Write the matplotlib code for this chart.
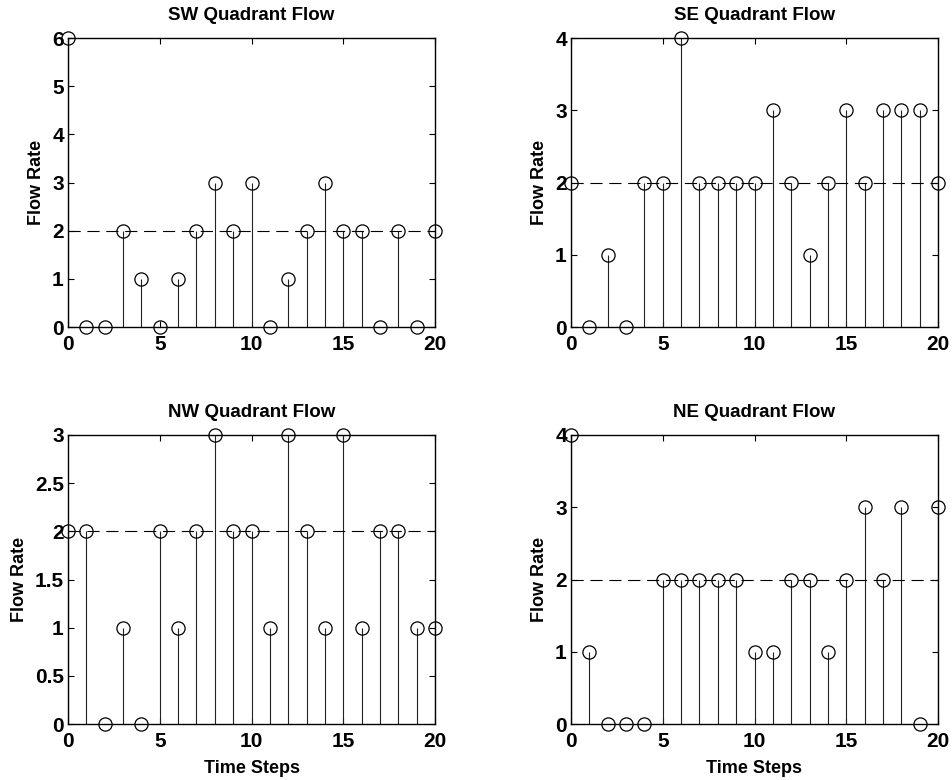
import numpy as np
import matplotlib.pyplot as plt

# ==================================================
# data
# ==================================================

time_steps = np.arange(0, 21)

sw_flow = [6, 0, 0, 2, 1, 0, 1, 2, 3, 2, 3, 0, 1, 2, 3, 2, 2, 0, 2, 0, 2]
se_flow = [2, 0, 1, 0, 2, 2, 4, 2, 2, 2, 2, 3, 2, 1, 2, 3, 2, 3, 3, 3, 2]
nw_flow = [2, 2, 0, 1, 0, 2, 1, 2, 3, 2, 2, 1, 3, 2, 1, 3, 1, 2, 2, 1, 1]
ne_flow = [4, 1, 0, 0, 0, 2, 2, 2, 2, 2, 1, 1, 2, 2, 1, 2, 3, 2, 3, 0, 3]

titles = ['SW Quadrant Flow', 'SE Quadrant Flow',
          'NW Quadrant Flow', 'NE Quadrant Flow']

mean_level = 2

y_ticks = [
    [0, 1, 2, 3, 4, 5, 6],
    [0, 1, 2, 3, 4],
    [0, 0.5, 1, 1.5, 2, 2.5, 3],
    [0, 1, 2, 3, 4],
]
y_ticklabels = [
    ['0', '1', '2', '3', '4', '5', '6'],
    ['0', '1', '2', '3', '4'],
    ['0', '0.5', '1', '1.5', '2', '2.5', '3'],
    ['0', '1', '2', '3', '4'],
]

# ==================================================
# figure
# ==================================================

plt.rcParams['font.family'] = ['Liberation Sans', 'DejaVu Sans']
plt.rcParams['font.weight'] = 'bold'

W, H = 952, 780
fig = plt.figure(figsize=(W / 100, H / 100), dpi=100)

# axes boxes in pixels: left, top, right, bottom
boxes = [
    (68, 38, 435, 327),
    (571, 38, 938, 327),
    (68, 435, 435, 724),
    (571, 435, 938, 724),
]

all_flow = [sw_flow, se_flow, nw_flow, ne_flow]

for i in range(4):

    l, t, r, b = boxes[i]
    ax = fig.add_axes([l / W, 1 - b / H, (r - l) / W, (b - t) / H])

    flow = all_flow[i]

    # stems
    ax.vlines(time_steps, 0, flow, colors='#222222', linewidth=0.8, zorder=2)

    # markers
    ax.plot(time_steps, flow, 'o', markersize=9.5, markerfacecolor='none',
            markeredgecolor='black', markeredgewidth=0.9,
            clip_on=False, zorder=4)

    # mean line
    ax.plot([0, 20], [mean_level, mean_level], color='black',
            linewidth=0.8, dashes=(11, 6), zorder=3)

    ax.set_xlim(0, 20)
    ax.set_ylim(y_ticks[i][0], y_ticks[i][-1])

    ax.set_xticks([0, 5, 10, 15, 20])
    ax.set_xticklabels(['0', '5', '10', '15', '20'])
    ax.set_yticks(y_ticks[i])
    ax.set_yticklabels(y_ticklabels[i])

    ax.tick_params(direction='in', length=4, width=0.8,
                   top=True, right=True, labelsize=15)
    ax.tick_params(axis='x', pad=6)
    ax.tick_params(axis='y', pad=3)

    for s in ax.spines.values():
        s.set_linewidth(1.0)

    ax.set_title(titles[i], fontsize=13.5, fontweight='bold', pad=13)
    ax.set_ylabel('Flow Rate', fontsize=13, fontweight='bold', labelpad=5)

    if i >= 2:
        ax.set_xlabel('Time Steps', fontsize=13, fontweight='bold', labelpad=6)

fig.savefig('out.png', dpi=100)
